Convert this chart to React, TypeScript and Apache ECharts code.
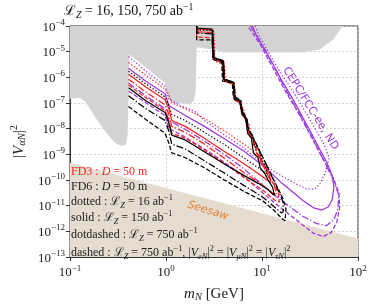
import React, { useEffect, useRef } from "react";
import * as echarts from "echarts";

// ---- data: [log10(m_N / GeV), log10(|V|^2)] ----
const excludedRegion = [
  [-1.0, -4.0], [-1.0, -6.84], [-0.9, -6.8], [-0.84, -6.95], [-0.72, -7.64], [-0.61, -8.22],
  [-0.53, -8.56], [-0.47, -8.67], [-0.42, -8.64], [-0.4, -8.29], [-0.39, -6.84], [-0.38, -5.11],
  [-0.21, -5.61], [-0.01, -6.22], [0.02, -6.75], [0.06, -6.99], [0.25, -7.03], [0.29, -6.91],
  [0.31, -6.53], [0.32, -4.84], [0.5, -4.92], [0.6, -5.03], [1.42, -5.03], [1.6, -4.92],
  [1.74, -4.54], [1.84, -4.0],
];
const seesawBand = [[-1, -9.33], [2, -12.28], [2, -13], [-1, -13]];

const fd3Dotted = [[-0.39,-5.42],[-0.21,-5.92],[-0.01,-6.45],[0.03,-6.68],[0.06,-6.99],[0.2,-7.22],[0.4,-7.6],[0.6,-8.06],[0.81,-8.6],[0.91,-8.87],[0.94,-8.87],[0.92,-8.48],[0.89,-8.29],[0.87,-7.87],[0.83,-7.68],[0.81,-7.22],[0.77,-6.99],[0.72,-6.84],[0.71,-6.3],[0.62,-6.18],[0.61,-5.53],[0.51,-5.38],[0.5,-4.27],[0.32,-4.19],[0.32,-4.0]];
const fd3Solid = [[-0.39,-5.88],[-0.21,-6.38],[-0.01,-6.87],[0.03,-7.22],[0.06,-7.68],[0.2,-7.91],[0.4,-8.37],[0.6,-8.87],[0.81,-9.36],[0.96,-9.75],[1.06,-10.02],[1.09,-10.09],[1.08,-9.82],[1.04,-9.52],[0.99,-9.33],[0.97,-8.83],[0.92,-8.67],[0.9,-8.25],[0.86,-8.1],[0.84,-7.6],[0.8,-7.45],[0.78,-6.95],[0.72,-6.87],[0.71,-6.22],[0.61,-6.11],[0.6,-5.38],[0.5,-5.26],[0.49,-4.15],[0.32,-4.12],[0.32,-4.0]];
const fd3DotDash = [[-0.39,-6.07],[-0.21,-6.57],[-0.01,-7.07],[0.03,-7.45],[0.06,-7.91],[0.2,-8.14],[0.4,-8.6],[0.6,-9.13],[0.81,-9.71],[1.01,-10.21],[1.11,-10.51],[1.15,-10.59],[1.13,-10.21],[1.07,-9.9],[1.03,-9.59],[0.99,-9.21],[0.94,-8.94],[0.91,-8.44],[0.87,-8.22],[0.84,-7.68],[0.8,-7.49],[0.78,-6.99],[0.72,-6.91],[0.71,-6.26],[0.61,-6.15],[0.6,-5.42],[0.5,-5.3],[0.49,-4.27],[0.32,-4.23],[0.32,-4.0]];
const fd3Dashed = [[-0.39,-6.3],[-0.21,-6.8],[-0.01,-7.3],[0.03,-7.68],[0.06,-8.18],[0.2,-8.37],[0.4,-8.83],[0.6,-9.33],[0.81,-9.9],[1.01,-10.4],[1.13,-10.78],[1.18,-10.86],[1.17,-10.48],[1.11,-10.09],[1.05,-9.71],[1.0,-9.25],[0.95,-8.94],[0.91,-8.41],[0.86,-8.18],[0.83,-7.64],[0.79,-7.45],[0.77,-6.99],[0.71,-6.87],[0.7,-6.26],[0.6,-6.11],[0.59,-5.42],[0.49,-5.3],[0.48,-4.46],[0.32,-4.43],[0.32,-4.0]];

const fd6Dotted = [[-0.39,-5.76],[-0.21,-6.26],[-0.01,-6.76],[0.03,-7.1],[0.06,-7.45],[0.2,-7.68],[0.4,-8.14],[0.6,-8.6],[0.81,-9.13],[0.96,-9.52],[1.03,-9.71],[1.05,-9.75],[1.04,-9.44],[1.0,-9.25],[0.97,-8.83],[0.92,-8.67],[0.9,-8.25],[0.86,-8.1],[0.84,-7.6],[0.8,-7.45],[0.78,-6.95],[0.72,-6.87],[0.71,-6.22],[0.61,-6.11],[0.6,-5.38],[0.5,-5.26],[0.49,-4.19],[0.32,-4.15],[0.32,-4.0]];
const fd6Solid = [[-0.39,-6.41],[-0.21,-6.91],[-0.01,-7.37],[0.03,-7.79],[0.06,-8.25],[0.2,-8.44],[0.4,-8.9],[0.6,-9.36],[0.81,-9.82],[0.96,-10.13],[1.06,-10.36],[1.11,-10.55],[1.13,-10.59],[1.11,-10.28],[1.06,-9.98],[1.03,-9.75],[0.98,-9.52],[0.96,-9.13],[0.91,-8.94],[0.89,-8.37],[0.85,-8.18],[0.83,-7.6],[0.79,-7.41],[0.77,-6.91],[0.71,-6.84],[0.7,-6.18],[0.6,-6.07],[0.59,-5.34],[0.49,-5.23],[0.48,-4.12],[0.32,-4.08],[0.32,-4.0]];
const fd6DotDash = [[-0.39,-6.72],[-0.21,-7.22],[-0.01,-7.68],[0.03,-8.1],[0.06,-8.6],[0.2,-8.79],[0.4,-9.25],[0.6,-9.71],[0.81,-10.21],[1.01,-10.67],[1.13,-11.05],[1.2,-11.28],[1.22,-11.24],[1.22,-10.86],[1.18,-10.48],[1.13,-10.09],[1.07,-9.59],[1.01,-9.13],[0.96,-8.75],[0.91,-8.37],[0.87,-8.1],[0.84,-7.6],[0.8,-7.37],[0.78,-6.91],[0.72,-6.8],[0.71,-6.22],[0.61,-6.07],[0.6,-5.38],[0.5,-5.23],[0.49,-4.31],[0.32,-4.27],[0.32,-4.0]];
const fd6Dashed = [[-0.39,-7.14],[-0.21,-7.64],[-0.01,-8.18],[0.03,-8.56],[0.06,-8.94],[0.2,-9.13],[0.4,-9.52],[0.6,-9.98],[0.81,-10.44],[1.01,-10.82],[1.13,-11.2],[1.21,-11.51],[1.24,-11.59],[1.25,-11.13],[1.22,-10.74],[1.17,-10.36],[1.11,-9.9],[1.05,-9.44],[0.99,-8.98],[0.94,-8.6],[0.89,-8.22],[0.85,-7.91],[0.82,-7.45],[0.78,-7.22],[0.76,-6.84],[0.7,-6.72],[0.69,-6.22],[0.59,-6.15],[0.58,-5.42],[0.49,-5.3],[0.48,-4.54],[0.32,-4.54],[0.32,-4.0]];

const ndDotted = [[-0.39,-5.19],[-0.21,-5.76],[-0.01,-6.34],[0.03,-6.84],[0.15,-7.1],[0.3,-7.33],[0.4,-7.68],[0.6,-8.22],[0.81,-8.75],[0.96,-9.21],[1.11,-9.63],[1.32,-10.09],[1.47,-10.36],[1.54,-10.36],[1.6,-10.17],[1.66,-9.71],[1.7,-9.13],[1.64,-8.56],[1.54,-7.91],[1.42,-7.14],[1.32,-6.53],[1.21,-5.92],[1.11,-5.3],[1.03,-4.77],[0.97,-4.38],[0.93,-4.0]];
const ndSolid = [[-0.39,-5.65],[-0.21,-6.15],[-0.01,-6.64],[0.03,-7.1],[0.2,-7.49],[0.4,-7.91],[0.6,-8.37],[0.81,-8.87],[1.01,-9.44],[1.21,-10.13],[1.42,-10.78],[1.54,-11.09],[1.62,-11.17],[1.69,-11.05],[1.73,-10.78],[1.75,-10.28],[1.73,-9.82],[1.68,-9.36],[1.6,-8.79],[1.52,-8.22],[1.42,-7.53],[1.32,-6.84],[1.21,-6.15],[1.11,-5.46],[1.04,-5.0],[0.98,-4.61],[0.93,-4.27],[0.9,-4.0]];
const ndDotDash = [[-0.39,-6.22],[-0.21,-6.72],[-0.01,-7.22],[0.03,-7.68],[0.2,-8.02],[0.4,-8.48],[0.6,-8.98],[0.81,-9.56],[1.01,-10.21],[1.21,-10.82],[1.42,-11.4],[1.57,-11.7],[1.67,-11.78],[1.75,-11.55],[1.79,-11.13],[1.8,-10.59],[1.75,-10.05],[1.64,-9.21],[1.52,-8.33],[1.4,-7.49],[1.26,-6.57],[1.13,-5.61],[1.03,-4.92],[0.95,-4.43],[0.88,-4.0]];
const ndDashed = [[-0.39,-6.53],[-0.21,-6.99],[-0.01,-7.49],[0.03,-7.99],[0.2,-8.33],[0.4,-8.79],[0.6,-9.29],[0.81,-9.86],[1.01,-10.51],[1.21,-11.13],[1.42,-11.74],[1.54,-12.08],[1.64,-12.2],[1.72,-12.05],[1.78,-11.63],[1.81,-11.05],[1.8,-10.48],[1.74,-9.9],[1.62,-9.06],[1.5,-8.22],[1.37,-7.33],[1.23,-6.45],[1.11,-5.61],[0.99,-4.77],[0.91,-4.31],[0.85,-4.0]];

const xRange = [0.1, 100];
const yRange = [1e-13, 1e-4];

const SERIF = '"Liberation Serif", "DejaVu Serif", serif';
const SANS = '"DejaVu Sans", "Noto Sans", sans-serif';
const RED = "#ff1f1f";
const BLACK = "#000000";
const PURPLE = "#9b35e0";
const DOT = [1.3, 2];
const DASH = [4.5, 2];
const DOTDASH = [7, 2, 1.3, 2];

const toLin = (pts: number[][]) => pts.map(([a, b]) => [Math.pow(10, a), Math.pow(10, b)]);

function richSet(color: string, size: number) {
  const lh = size + 4;
  return {
    r: { fontFamily: SERIF, fontSize: size, lineHeight: lh, fill: color, color },
    i: { fontFamily: SERIF, fontSize: size, fontStyle: "italic", lineHeight: lh, fill: color, color },
    sub: { fontFamily: SERIF, fontSize: size * 0.7, fontStyle: "italic", lineHeight: size * 0.7, verticalAlign: "bottom", fill: color, color },
    sup: { fontFamily: SERIF, fontSize: size * 0.7, lineHeight: size * 0.7, verticalAlign: "top", fill: color, color },
  };
}

function label(text: string, x: number, y: number, color: string, size: number) {
  return {
    type: "text",
    x,
    y,
    z: 100,
    style: {
      text,
      rich: richSet(color, size),
      fill: color,
      align: "left",
      verticalAlign: "middle",
      textAlign: "left",
      textVerticalAlign: "middle",
    },
  };
}

export default function App() {
  const ref = useRef<HTMLDivElement>(null);
  useEffect(() => {
    if (!ref.current) return;
    const chart = echarts.init(ref.current, null, { renderer: "svg" });

    const polygon = (pts: number[][], fill: string, z: number) => ({
      type: "custom",
      z,
      silent: true,
      data: [[1, 1e-8]],
      renderItem: (_p: any, api: any) => ({
        type: "polygon",
        shape: { points: toLin(pts).map((p) => api.coord(p)) },
        style: { fill },
      }),
    });

    const line = (pts: number[][], color: string, dash: number[] | string, z: number) => ({
      type: "line",
      z,
      data: toLin(pts),
      showSymbol: false,
      symbol: "none",
      silent: true,
      lineStyle: { color, width: 1.25, type: dash },
    });

    const axisLabel = {
      formatter: (v: number) => {
        const e = Math.round(Math.log10(v));
        return `{b|10}{p|${e < 0 ? "\u2212" : ""}${Math.abs(e)}}`;
      },
      rich: {
        b: { fontFamily: SERIF, fontSize: 13, lineHeight: 17, color: "#222" },
        p: { fontFamily: SERIF, fontSize: 9, lineHeight: 9, verticalAlign: "top", color: "#222" },
      },
    };
    const split = { show: true, lineStyle: { color: "#c8c8c8", type: [2, 2], width: 0.8 } };

    chart.setOption({
      animation: false,
      grid: { left: 62, top: 26, width: 296, height: 235, show: true, borderColor: "#333", borderWidth: 1, backgroundColor: "transparent" },
      xAxis: {
        type: "log",
        logBase: 10,
        min: xRange[0],
        max: xRange[1],
        interval: 1,
        axisLine: { show: true, lineStyle: { color: "#333" } },
        axisTick: { show: true, length: 4, lineStyle: { color: "#333" } },
        axisLabel: { ...axisLabel, margin: 6 },
        splitLine: split,
        name: "{i|m}{sub|N}{r| [GeV]}",
        nameLocation: "middle",
        nameGap: 26,
        nameTextStyle: { rich: { ...richSet("#222", 15) } },
      },
      yAxis: {
        type: "log",
        logBase: 10,
        min: yRange[0],
        max: yRange[1],
        interval: 1,
        axisLine: { show: true, lineStyle: { color: "#333" } },
        axisTick: { show: true, length: 4, lineStyle: { color: "#333" } },
        axisLabel: { ...axisLabel, margin: 5 },
        splitLine: split,
        name: "{r||}{i|V}{sub|\u03b1N}{r||}{sup|2}",
        nameLocation: "middle",
        nameRotate: 90,
        nameGap: 41,
        nameTextStyle: { rich: { ...richSet("#222", 15) } },
      },
      graphic: [
        label("{r|\u2112}{sub|Z}{r| = 16, 150, 750 ab}{sup|\u22121}", 64, 10, "#111", 14),
        label("{r|FD3 : }{i|D}{r| = 50 m}", 71, 171, RED, 12),
        label("{r|FD6 : }{i|D}{r| = 50 m}", 71, 186, "#222", 12),
        label("{r|dotted : \u2112}{sub|Z}{r| = 16 ab}{sup|\u22121}", 71, 201, "#222", 12),
        label("{r|solid : \u2112}{sub|Z}{r| = 150 ab}{sup|\u22121}", 71, 217, "#222", 12),
        label("{r|dotdashed : \u2112}{sub|Z}{r| = 750 ab}{sup|\u22121}", 71, 234, "#222", 12),
        label(
          "{r|dashed : \u2112}{sub|Z}{r| = 750 ab}{sup|\u22121}{r|, |}{i|V}{sub|eN}{r||}{sup|2}{r| = |}{i|V}{sub|\u03bcN}{r||}{sup|2}{r| = |}{i|V}{sub|\u03c4N}{r||}{sup|2}",
          71, 252, "#222", 12
        ),
        {
          type: "text",
          x: 208,
          y: 210,
          rotation: -0.3,
          z: 100,
          style: { text: "Seesaw", fontFamily: SANS, fontStyle: "italic", fontSize: 11, fill: "#e0853a", align: "center", verticalAlign: "middle", textAlign: "center", textVerticalAlign: "middle" },
        },
        {
          type: "text",
          x: 311,
          y: 108,
          rotation: -1.01,
          z: 100,
          style: { text: "CEPC/FCC-ee, ND", fontFamily: SANS, fontSize: 11, fill: PURPLE, align: "center", verticalAlign: "middle", textAlign: "center", textVerticalAlign: "middle" },
        },
      ],
      series: [
        polygon(excludedRegion, "#d3d3d3", 1),
        polygon(seesawBand, "#e6dbcf", 1),
        line(ndDotted, PURPLE, DOT, 3),
        line(ndSolid, PURPLE, "solid", 3),
        line(ndDotDash, PURPLE, DOTDASH, 3),
        line(ndDashed, PURPLE, DASH, 3),
        line(fd3Dotted, RED, DOT, 4),
        line(fd3Solid, RED, "solid", 4),
        line(fd3DotDash, RED, DOTDASH, 4),
        line(fd3Dashed, RED, DASH, 4),
        line(fd6Dotted, BLACK, DOT, 5),
        line(fd6Solid, BLACK, "solid", 5),
        line(fd6DotDash, BLACK, DOTDASH, 5),
        line(fd6Dashed, BLACK, DASH, 5),
      ],
    });
    return () => chart.dispose();
  }, []);
  return <div ref={ref} style={{ position: "fixed", left: 0, top: 0, width: 374, height: 307 }} />;
}
